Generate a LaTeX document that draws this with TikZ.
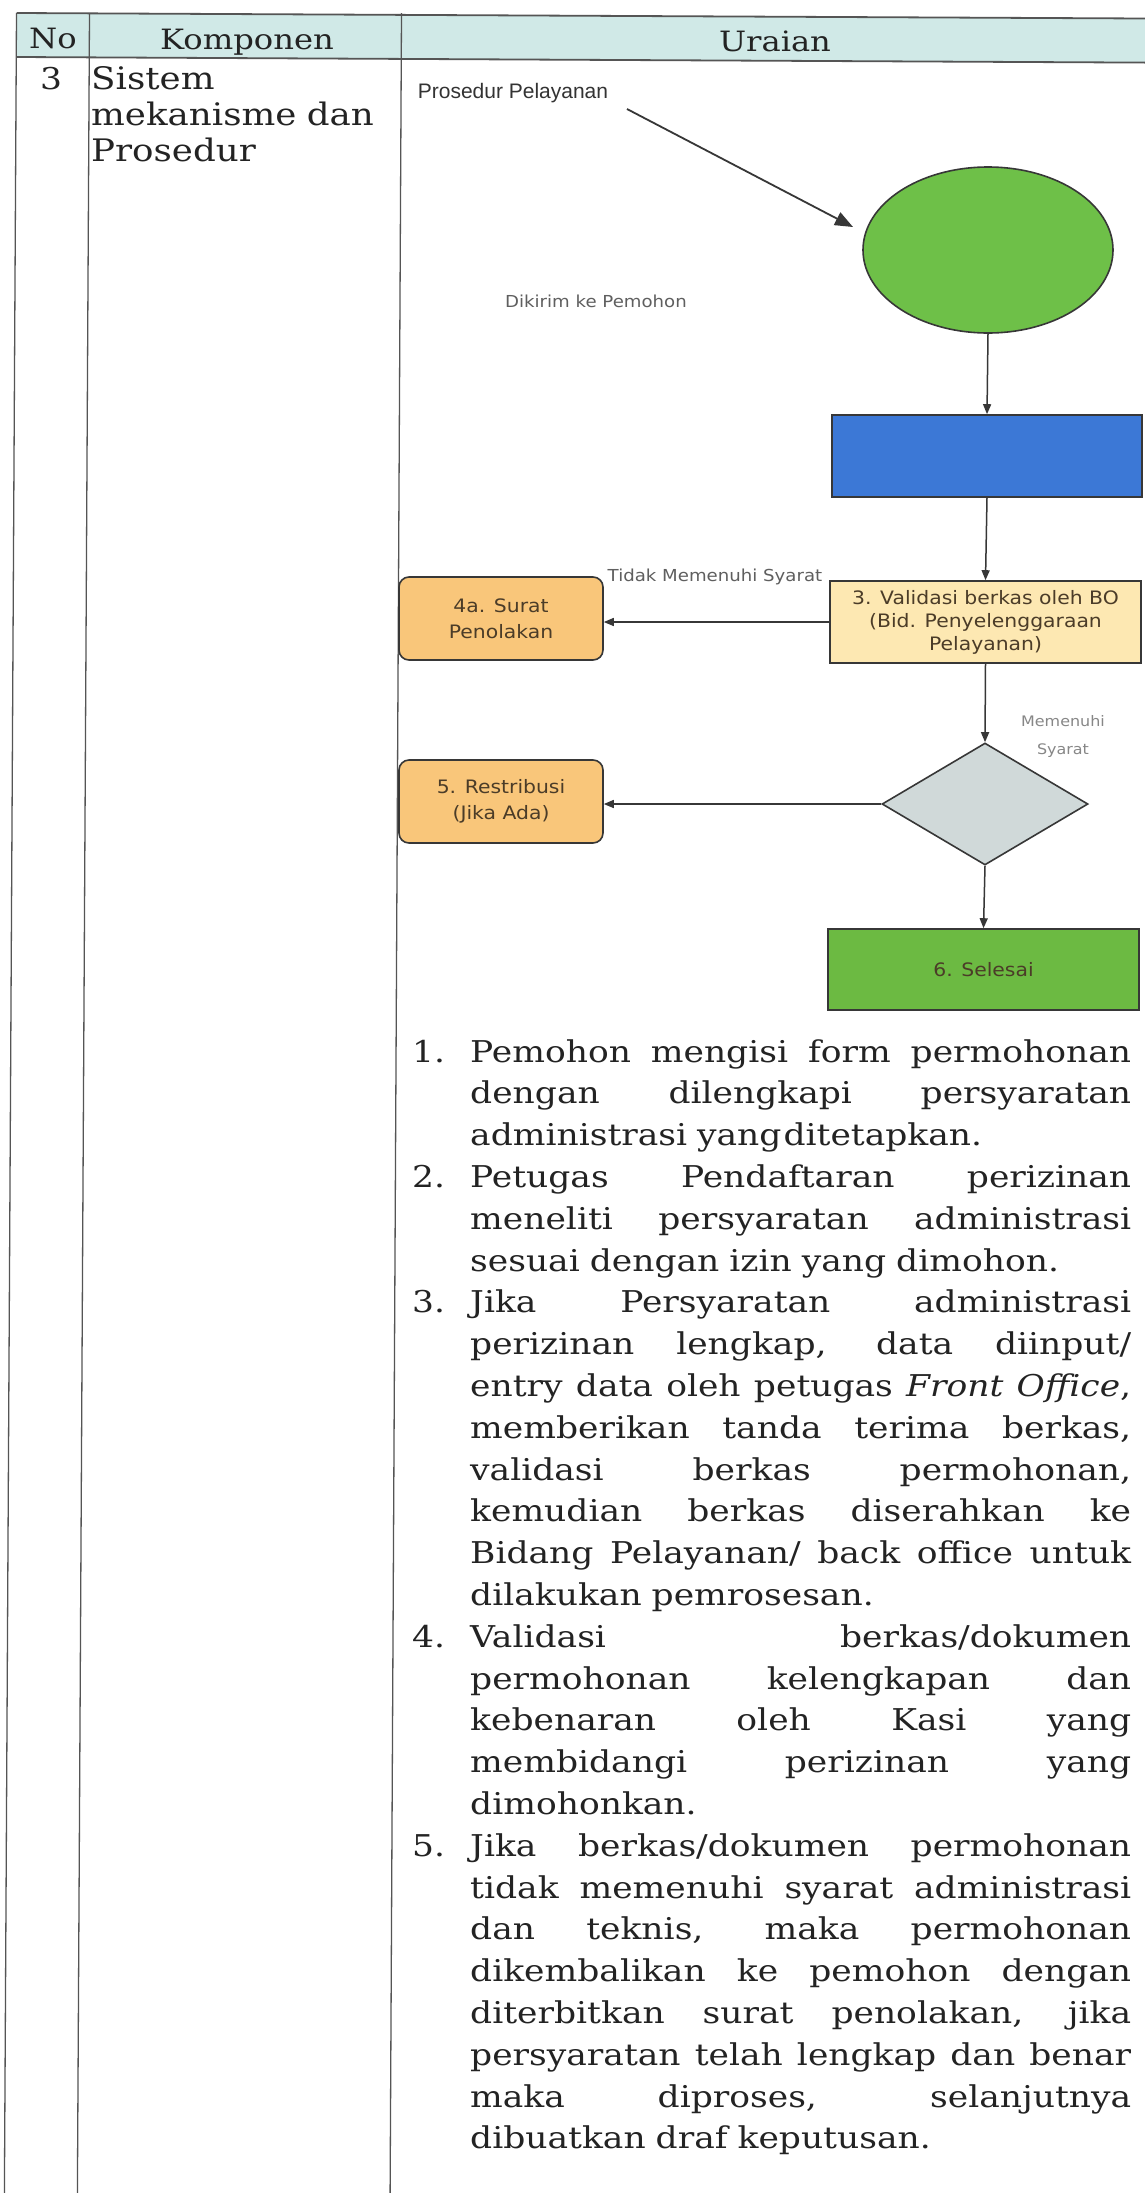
\documentclass[tikz,border=0pt]{standalone}
\usepackage{fontspec}
\usetikzlibrary{shapes.geometric,arrows.meta}
\newfontfamily\flowfont[FakeStretch=1.1]{DejaVu Sans}
\newfontfamily\arialfont{Liberation Sans}
\newfontfamily\serifx[FakeStretch=1.15]{DejaVu Serif}
\newsavebox\jlbox
\newcommand\jl[1]{\sbox\jlbox{#1}\ifdim\wd\jlbox>661pt\resizebox{661pt}{\height}{\usebox\jlbox}\else\hbox to 661pt{\spaceskip=\fontdimen2\font plus 1fil\relax #1}\fi}
\newcommand\num[1]{\makebox[58pt][l]{#1}}
\newcommand\ind{\hspace*{58pt}}
\definecolor{hdr}{RGB}{208,233,231}
\definecolor{tline}{RGB}{85,85,85}
\definecolor{txt}{RGB}{35,35,35}
\definecolor{ellg}{RGB}{110,192,72}
\definecolor{boxblue}{RGB}{60,120,214}
\definecolor{valy}{RGB}{253,232,178}
\definecolor{orng}{RGB}{249,198,122}
\definecolor{dia}{RGB}{208,217,217}
\definecolor{selg}{RGB}{108,186,66}
\definecolor{btxt}{RGB}{75,60,40}
\definecolor{lbl}{RGB}{95,95,95}
\definecolor{lbl2}{RGB}{135,135,135}
\definecolor{edge}{RGB}{55,55,55}
\begin{document}
\begin{tikzpicture}[x=1pt,y=-1pt,
  tl/.style={draw=tline,line width=1.3pt},
  hl/.style={draw=tline,line width=1.8pt},
  hdrtext/.style={inner sep=0,text=txt,font=\serifx\fontsize{28}{34}\selectfont},
  fbox/.style={draw=edge,line width=1.6pt,inner sep=0,align=center,text=btxt,
    font=\flowfont\fontsize{18.5}{23}\selectfont},
  rbox/.style={fbox,rounded corners=10pt,fill=orng,minimum width=204pt,minimum height=83pt,
    font=\flowfont\fontsize{18.5}{26}\selectfont},
  arr/.style={draw=edge,line width=1.5pt,-{Triangle[length=10pt,width=8pt]}},
  bigarr/.style={draw=edge,line width=1.8pt,-{Triangle[length=18pt,width=14pt]}},
  flowlbl/.style={inner sep=0,align=center,font=\flowfont\fontsize{16.5}{28}\selectfont}]
\useasboundingbox (0,0) rectangle (1145,2193);
\fill[white] (0,0) rectangle (1145,2193);
% table
\fill[hdr] (16.5,13) -- (1145,18.5) -- (1145,62.6) -- (16.3,57) -- cycle;
\draw[hl] (16.5,13) -- (1145,18.5);
\draw[hl] (16.3,57) -- (1145,62.6);
\draw[tl] (16.5,13) -- (4.4,2193);
\draw[tl] (89.5,13) -- (77.4,2193);
\draw[tl] (401.5,13) -- (390.1,2193);
\node[hdrtext,anchor=base] (hno) at (53,48) {No};
\node[hdrtext,anchor=base] (hkomp) at (247,49) {Komponen};
\node[hdrtext,anchor=base] (hurai) at (775,51) {Uraian};
\node[hdrtext,anchor=base,font=\serifx\fontsize{30}{36}\selectfont] (rno) at (51,89) {3};
\node[hdrtext,anchor=base west,text width=300pt,align=left,font=\serifx\fontsize{31}{36}\selectfont] (rkomp) at (91,89) {Sistem\\mekanisme dan\\Prosedur};
% flowchart
\node[inner sep=0,text=black!80,font=\arialfont\fontsize{21}{25}\selectfont] (plabel) at (513,93) {Prosedur Pelayanan};
\coordinate (pst) at (627,109);
\coordinate (ptip) at (853,227);
\draw[bigarr] (pst) -- (ptip);
\node[ellipse,draw=edge,line width=1.6pt,fill=ellg,minimum width=250pt,minimum height=166pt,inner sep=0] (start) at (988,250) {};
\node[flowlbl,text=lbl] (dikirim) at (596,301) {Dikirim ke Pemohon};
\node[fbox,fill=boxblue,minimum width=310pt,minimum height=82pt] (form) at (987,456) {};
\node[fbox,fill=valy,minimum width=311pt,minimum height=82pt] (valid) at (985.5,622) {3. Validasi berkas oleh BO\\(Bid. Penyelenggaraan\\Pelayanan)};
\node[rbox] (tolak) at (501,618.5) {4a. Surat\\Penolakan};
\node[diamond,draw=edge,line width=1.6pt,fill=dia,minimum width=206pt,minimum height=122pt,inner sep=0] (cek) at (985,804) {};
\node[rbox] (retri) at (501,801.5) {5. Restribusi\\(Jika Ada)};
\node[fbox,fill=selg,minimum width=311pt,minimum height=81pt] (selesai) at (983.5,969.5) {6. Selesai};
\node[flowlbl,text=lbl] (tms) at (715,577) {Tidak Memenuhi Syarat};
\node[flowlbl,text=lbl2,font=\flowfont\fontsize{14.5}{28}\selectfont] (ms) at (1063,736) {Memenuhi\\Syarat};
\draw[arr] (start.south) -- (form.north);
\draw[arr] (form.south) -- (valid.north);
\draw[arr] (valid.west) -- (valid.west -| tolak.east);
\draw[arr] (valid.south) -- (cek.north);
\draw[arr] (cek.west) -- (cek.west -| retri.east);
\draw[arr] (cek.south) -- (selesai.north);
% list
\node[anchor=base west,inner sep=0,text width=719pt,align=left,text=txt,
  font=\serifx\fontsize{30}{41.8}\selectfont] (list) at (412,1062) {%
\num{1.}\jl{Pemohon mengisi form permohonan}\\
\ind\jl{dengan dilengkapi persyaratan}\\
\ind administrasi yang\kern2pt ditetapkan.\\
\num{2.}\jl{Petugas Pendaftaran perizinan}\\
\ind\jl{meneliti persyaratan administrasi}\\
\ind sesuai dengan izin yang dimohon.\\
\num{3.}\jl{Jika Persyaratan administrasi}\\
\ind\jl{perizinan lengkap, data diinput/}\\
\ind\jl{entry data oleh petugas \textit{Front Office},}\\
\ind\jl{memberikan tanda terima berkas,}\\
\ind\jl{validasi berkas permohonan,}\\
\ind\jl{kemudian berkas diserahkan ke}\\
\ind\jl{Bidang Pelayanan/ back office untuk}\\
\ind dilakukan pemrosesan.\\
\num{4.}\jl{Validasi berkas/dokumen}\\
\ind\jl{permohonan kelengkapan dan}\\
\ind\jl{kebenaran oleh Kasi yang}\\
\ind\jl{membidangi perizinan yang}\\
\ind dimohonkan.\\
\num{5.}\jl{Jika berkas/dokumen permohonan}\\
\ind\jl{tidak memenuhi syarat administrasi}\\
\ind\jl{dan teknis, maka permohonan}\\
\ind\jl{dikembalikan ke pemohon dengan}\\
\ind\jl{diterbitkan surat penolakan, jika}\\
\ind\jl{persyaratan telah lengkap dan benar}\\
\ind\jl{maka diproses, selanjutnya}\\
\ind dibuatkan draf keputusan.};
\end{tikzpicture}
\end{document}
